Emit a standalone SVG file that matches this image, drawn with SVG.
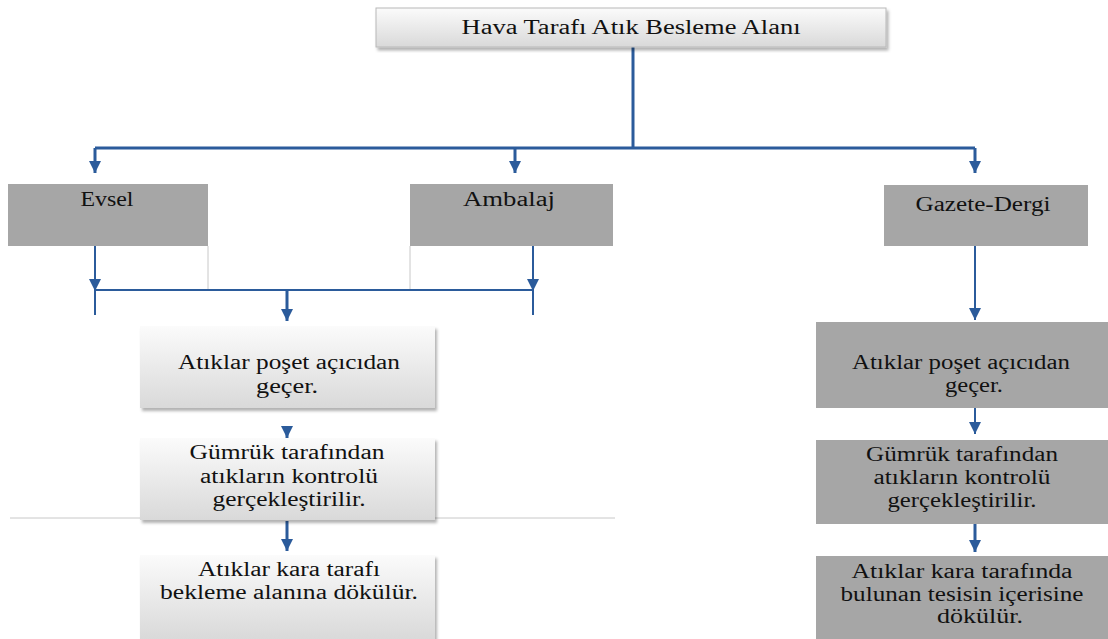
<svg xmlns="http://www.w3.org/2000/svg" width="1108" height="639" viewBox="0 0 1108 639">
<defs>
<linearGradient id="lg" x1="0" y1="0" x2="0" y2="1">
<stop offset="0" stop-color="#fbfbfb"/>
<stop offset="1" stop-color="#d9d9d9"/>
</linearGradient>
<filter id="sh" x="-5%" y="-5%" width="115%" height="120%">
<feDropShadow dx="2" dy="3" stdDeviation="1.5" flood-color="#000" flood-opacity="0.3"/>
</filter>
<marker id="ah" viewBox="0 0 10 10" refX="10" refY="5" markerWidth="12" markerHeight="12" orient="auto" markerUnits="userSpaceOnUse">
<path d="M0,0 L10,5 L0,10 Z" fill="#2b5b9b"/>
</marker>
</defs>
<style>
.lt{fill:url(#lg);filter:url(#sh)}
.tb{fill:url(#lg);stroke:#b8b8b8;stroke-width:1;filter:url(#sh)}
.gr{fill:#a6a6a6}
text{font-family:'Liberation Serif','DejaVu Serif',serif;font-size:20px;fill:#111;text-anchor:middle}
.c{stroke:#2b5b9b;stroke-width:3;fill:none}
.c2{stroke:#2b5b9b;stroke-width:2;fill:none}
.g{stroke:#c8c8c8;stroke-width:1;fill:none}
</style>

<g id="connectors">
<path class="c" d="M633,47 V148"/>
<path class="c" d="M95,148 H975"/>
<path class="c" d="M95,148 V173" marker-end="url(#ah)"/>
<path class="c" d="M515,148 V173" marker-end="url(#ah)"/>
<path class="c" d="M975,148 V173" marker-end="url(#ah)"/>
<path class="g" d="M208,246 V290 M410,246 V290"/>
<path class="g" d="M10,518 H615"/>
<path class="c2" d="M95,246 V291" marker-end="url(#ah)"/>
<path class="c2" d="M95,288 V315"/>
<path class="c2" d="M533,246 V291" marker-end="url(#ah)"/>
<path class="c2" d="M533,288 V315"/>
<path class="c2" d="M95,290 H533"/>
<path class="c" d="M287,290 V321" marker-end="url(#ah)"/>
<path class="c" d="M287,426 V438" marker-end="url(#ah)"/>
<path class="c" d="M287,521 V551" marker-end="url(#ah)"/>
<path class="c2" d="M975,246 V320" marker-end="url(#ah)"/>
<path class="c2" d="M975,408 V434" marker-end="url(#ah)"/>
<path class="c" d="M975,524 V552" marker-end="url(#ah)"/>
</g>

<g id="n-top">
<rect class="tb" x="376" y="8" width="510" height="39"/>
<text x="631" y="34" textLength="339" lengthAdjust="spacingAndGlyphs">Hava Tarafı Atık Besleme Alanı</text>
</g>
<g id="n-evsel">
<rect class="gr" x="8" y="184" width="200" height="62"/>
<text x="107" y="206" textLength="53" lengthAdjust="spacingAndGlyphs">Evsel</text>
</g>
<g id="n-ambalaj">
<rect class="gr" x="410" y="184" width="203" height="62"/>
<text x="509" y="206" textLength="92" lengthAdjust="spacingAndGlyphs">Ambalaj</text>
</g>
<g id="n-gazete">
<rect class="gr" x="884" y="185" width="204" height="61"/>
<text x="983" y="211" textLength="135" lengthAdjust="spacingAndGlyphs">Gazete-Dergi</text>
</g>
<g id="n-l1">
<rect class="lt" x="140" y="326" width="295" height="82"/>
<text x="289" y="369" textLength="222" lengthAdjust="spacingAndGlyphs">Atıklar poşet açıcıdan</text>
<text x="287" y="393" textLength="62" lengthAdjust="spacingAndGlyphs">geçer.</text>
</g>
<g id="n-l2">
<rect class="lt" x="140" y="438" width="295" height="82"/>
<text x="287" y="459" textLength="195" lengthAdjust="spacingAndGlyphs">Gümrük tarafından</text>
<text x="289" y="483" textLength="178" lengthAdjust="spacingAndGlyphs">atıkların kontrolü</text>
<text x="289" y="506" textLength="153" lengthAdjust="spacingAndGlyphs">gerçekleştirilir.</text>
</g>
<g id="n-l3">
<rect class="lt" x="140" y="555" width="295" height="84"/>
<text x="289" y="576" textLength="182" lengthAdjust="spacingAndGlyphs">Atıklar kara tarafı</text>
<text x="289" y="599" textLength="258" lengthAdjust="spacingAndGlyphs">bekleme alanına dökülür.</text>
</g>
<g id="n-r1">
<rect class="gr" x="816" y="322" width="292" height="86"/>
<text x="961" y="369" textLength="218" lengthAdjust="spacingAndGlyphs">Atıklar poşet açıcıdan</text>
<text x="974" y="392" textLength="58" lengthAdjust="spacingAndGlyphs">geçer.</text>
</g>
<g id="n-r2">
<rect class="gr" x="816" y="440" width="292" height="84"/>
<text x="962" y="461" textLength="192" lengthAdjust="spacingAndGlyphs">Gümrük tarafından</text>
<text x="962" y="484" textLength="177" lengthAdjust="spacingAndGlyphs">atıkların kontrolü</text>
<text x="962" y="507" textLength="149" lengthAdjust="spacingAndGlyphs">gerçekleştirilir.</text>
</g>
<g id="n-r3">
<rect class="gr" x="816" y="556" width="292" height="83"/>
<text x="962" y="578" textLength="221" lengthAdjust="spacingAndGlyphs">Atıklar kara tarafında</text>
<text x="962" y="601" textLength="243" lengthAdjust="spacingAndGlyphs">bulunan tesisin içerisine</text>
<text x="980" y="623" textLength="86" lengthAdjust="spacingAndGlyphs">dökülür.</text>
</g>
</svg>
